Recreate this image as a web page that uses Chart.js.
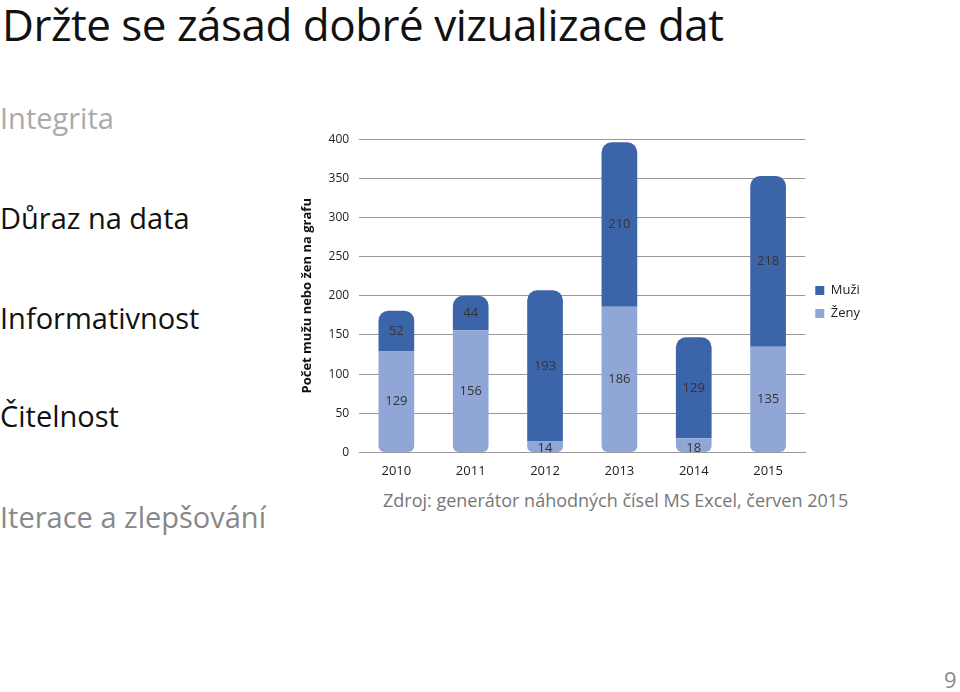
<!DOCTYPE html>
<html><head><meta charset="utf-8">
<script src="https://cdn.jsdelivr.net/npm/chart.js@4"></script>
<style>
body{margin:0;width:960px;height:692px;background:#fff;font-family:"Open Sans",Calibri,sans-serif;position:relative;overflow:hidden}
.t{position:absolute;white-space:nowrap;font-family:"Open Sans",sans-serif}
#title{left:2px;top:-6px;font-size:44px;color:#111;letter-spacing:-0.5px}
.l{font-size:29px;left:0}
#wrap{position:absolute;left:295px;top:122px;width:575px;height:360px}
</style></head><body>
<div class="t" id="title">Držte se zásad dobré vizualizace dat</div>
<div class="t l" style="top:98px;color:#aaa">Integrita</div>
<div class="t l" style="top:198px;color:#111">Důraz na data</div>
<div class="t l" style="top:298px;color:#111">Informativnost</div>
<div class="t l" style="top:396px;color:#111">Čitelnost</div>
<div class="t l" style="top:497px;color:#888">Iterace a zlepšování</div>
<div class="t" style="left:383px;top:488px;font-size:18px;color:#777">Zdroj: generátor náhodných čísel MS Excel, červen 2015</div>
<div class="t" style="left:944px;top:664px;font-size:22px;color:#888">9</div>
<div id="wrap"><canvas id="c"></canvas></div>
<script>
const categories=["2010","2011","2012","2013","2014","2015"];
const zeny=[129,156,14,186,18,135];
const muzi=[52,44,193,210,129,218];
const labelsPlugin={id:'lbl',afterDatasetsDraw(ch){const ctx=ch.ctx;ctx.save();ctx.font='13px "Open Sans"';ctx.fillStyle='#333';ctx.textAlign='center';ctx.textBaseline='middle';
ch.data.datasets.forEach((ds,i)=>{ch.getDatasetMeta(i).data.forEach((b,j)=>{const v=ds.data[j];let y=(b.y+b.base)/2;if(v<25)y=b.base-4;ctx.fillText(v,b.x,y);});});ctx.restore();}};
new Chart(document.getElementById('c'),{type:'bar',
data:{labels:categories,datasets:[
{label:'Ženy',data:zeny,backgroundColor:'#8fa6d6',borderRadius:{topLeft:0,topRight:0,bottomLeft:6,bottomRight:6},borderSkipped:false},
{label:'Muži',data:muzi,backgroundColor:'#3c64a8',borderRadius:{topLeft:10,topRight:10,bottomLeft:0,bottomRight:0},borderSkipped:false}]},
options:{responsive:true,maintainAspectRatio:false,animation:false,
barPercentage:0.48,categoryPercentage:1,
plugins:{legend:{position:'right',reverse:true,labels:{boxWidth:9,boxHeight:9,font:{size:13,family:'"Open Sans"'},color:'#222'}},tooltip:{enabled:false}},
scales:{x:{stacked:true,grid:{display:false},border:{color:'#999'},ticks:{color:'#222',font:{size:13,family:'"Open Sans"'}}},
y:{stacked:true,min:0,max:400,ticks:{stepSize:50,color:'#222',font:{size:12,family:'"Open Sans"'},padding:10},grid:{color:'#999',drawTicks:false},border:{display:false},
title:{display:true,text:'Počet mužu nebo žen na grafu',font:{size:13,weight:'bold',family:'"Open Sans"'},color:'#111'}}}},
plugins:[labelsPlugin]});
</script></body></html>
